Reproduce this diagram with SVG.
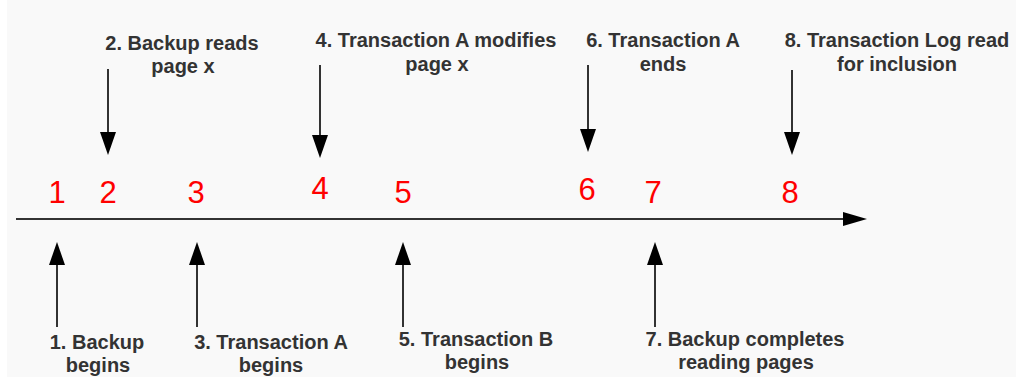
<svg xmlns="http://www.w3.org/2000/svg" width="1016" height="377" viewBox="0 0 1016 377">
  <defs>
    <style>
      .num { font-family: "Liberation Sans", Arial, sans-serif; font-size: 31px; fill: #ff0000; text-anchor: middle; }
      .lbl { font-family: "Liberation Sans", Arial, sans-serif; font-size: 20px; font-weight: bold; fill: #333; text-anchor: middle; }
      .arr { stroke: #333; stroke-width: 2; fill: none; }
      .tip { fill: #000; }
    </style>
  </defs>

  <rect x="0" y="0" width="1016" height="377" fill="#ffffff"/>
  <rect x="7" y="0" width="1009" height="377" fill="#f9f9f9"/>

  <!-- timeline axis and event arrows -->
  <g id="connectors">
    <line class="arr" x1="16" y1="219" x2="845" y2="219"/>
    <path class="tip" d="M843,212 L867,219 L843,226 Z"/>

    <!-- arrows from above -->
    <line class="arr" x1="108" y1="69" x2="108" y2="134"/>
    <path class="tip" d="M100,132 L108,155 L116,132 Z"/>
    <line class="arr" x1="320" y1="65" x2="320" y2="137"/>
    <path class="tip" d="M312,135 L320,158 L328,135 Z"/>
    <line class="arr" x1="588" y1="65" x2="588" y2="131"/>
    <path class="tip" d="M580,129 L588,152 L596,129 Z"/>
    <line class="arr" x1="792" y1="70" x2="792" y2="134"/>
    <path class="tip" d="M784,132 L792,155 L800,132 Z"/>

    <!-- arrows from below -->
    <line class="arr" x1="57" y1="263" x2="57" y2="327"/>
    <path class="tip" d="M49,265 L57,242 L65,265 Z"/>
    <line class="arr" x1="197" y1="263" x2="197" y2="327"/>
    <path class="tip" d="M189,265 L197,242 L205,265 Z"/>
    <line class="arr" x1="403" y1="263" x2="403" y2="327"/>
    <path class="tip" d="M395,265 L403,242 L411,265 Z"/>
    <line class="arr" x1="655" y1="263" x2="655" y2="327"/>
    <path class="tip" d="M647,265 L655,242 L663,265 Z"/>
  </g>

  <!-- step numbers on the axis -->
  <g id="numbers">
    <text class="num" x="57" y="203">1</text>
    <text class="num" x="108" y="203">2</text>
    <text class="num" x="196" y="203">3</text>
    <text class="num" x="320" y="199">4</text>
    <text class="num" x="403" y="203">5</text>
    <text class="num" x="587" y="200">6</text>
    <text class="num" x="653" y="203">7</text>
    <text class="num" x="790" y="203">8</text>
  </g>

  <g id="step1"><text class="lbl" x="97" y="349">1. Backup</text><text class="lbl" x="98" y="372">begins</text></g>
  <g id="step2"><text class="lbl" x="182" y="50">2. Backup reads</text><text class="lbl" x="183" y="73">page x</text></g>
  <g id="step3"><text class="lbl" x="271" y="349">3. Transaction A</text><text class="lbl" x="271" y="372">begins</text></g>
  <g id="step4"><text class="lbl" x="436" y="47">4. Transaction A modifies</text><text class="lbl" x="437" y="71">page x</text></g>
  <g id="step5"><text class="lbl" x="476" y="346">5. Transaction B</text><text class="lbl" x="477" y="369">begins</text></g>
  <g id="step6"><text class="lbl" x="663" y="47">6. Transaction A</text><text class="lbl" x="663" y="71">ends</text></g>
  <g id="step7"><text class="lbl" x="745" y="346">7. Backup completes</text><text class="lbl" x="746" y="369">reading pages</text></g>
  <g id="step8"><text class="lbl" x="897" y="47">8. Transaction Log read</text><text class="lbl" x="897" y="71">for inclusion</text></g>
</svg>
